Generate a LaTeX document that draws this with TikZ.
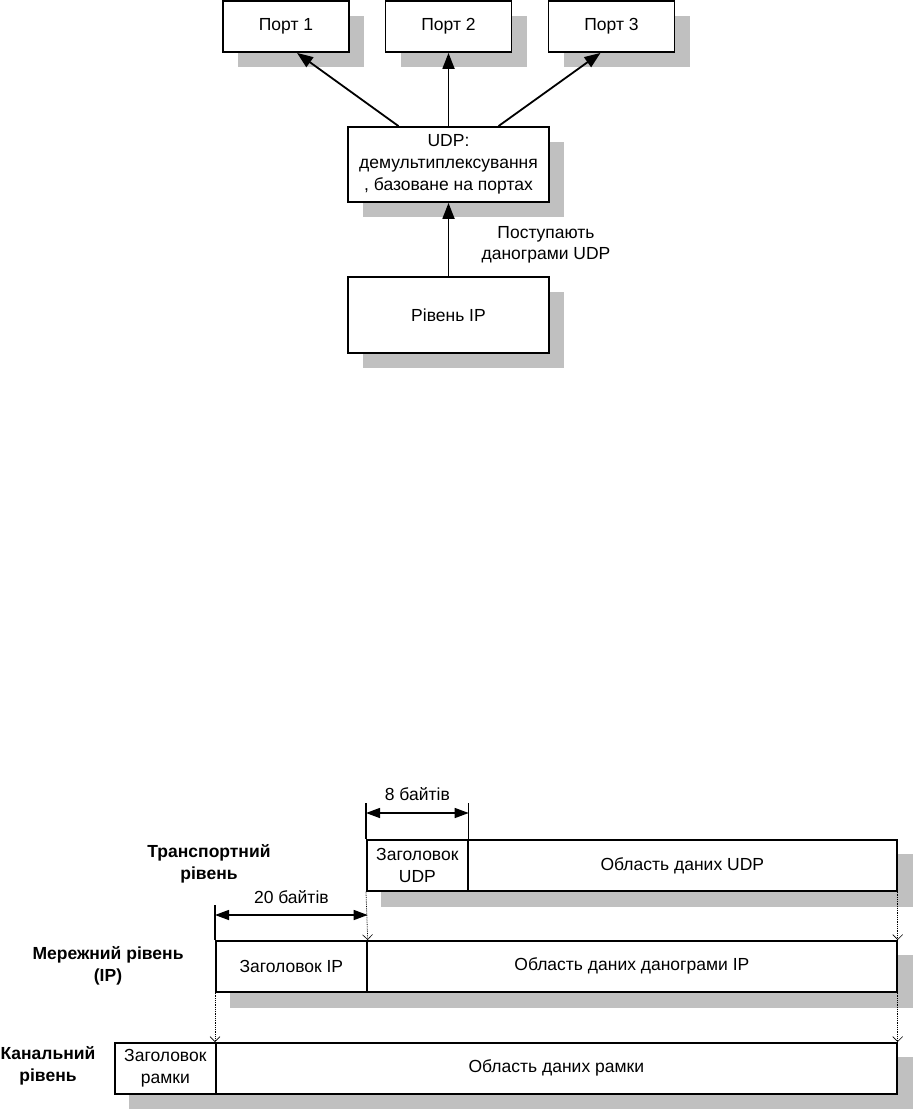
\documentclass[tikz,border=0pt]{standalone}
\usepackage{fontspec}
\setmainfont{Liberation Sans}
\usetikzlibrary{arrows.meta,shadows,calc,backgrounds}
\definecolor{shadowgray}{RGB}{192,192,192}
\begin{document}
\begin{tikzpicture}[x=1pt,y=-1pt,
  font=\fontsize{17.5}{21.5}\selectfont,
  box/.style={draw, line width=1.8pt, fill=white, align=center, inner sep=0pt,
    drop shadow={shadow xshift=15pt, shadow yshift=-15pt, fill=shadowgray, opacity=1}},
  cell/.style={draw, line width=1.7pt, fill=white, align=center, inner sep=0pt,
    anchor=north west, minimum height=51pt},
  arr/.style={line width=1.8pt, -{Triangle[length=16pt,width=12pt]}},
  dimarr/.style={line width=1.4pt, {Triangle[length=14pt,width=10pt]}-{Triangle[length=14pt,width=10pt]}},
  extline/.style={line width=1.1pt},
  dotarr/.style={line width=0.8pt, densely dotted, -{Straight Barb[length=5pt,width=10pt,line width=0.6pt]}},
  lvl/.style={font=\fontsize{17.5}{22}\selectfont\bfseries, align=center}]
\useasboundingbox (0,0) rectangle (913,1109);

% ---------- top diagram ----------
\node[box, minimum width=126pt, minimum height=51pt] (p1) at (286,26.5) {Порт 1};
\node[box, minimum width=126pt, minimum height=51pt] (p2) at (448.5,26.5) {Порт 2};
\node[box, minimum width=126pt, minimum height=51pt] (p3) at (611.5,26.5) {Порт 3};
\node[box, minimum width=201pt, minimum height=75pt, font=\fontsize{17.5}{22}\selectfont] (udp) at (448.5,164.5)
  {UDP:\\демультиплексування\\, базоване на портах};
\node[box, minimum width=201pt, minimum height=76pt] (ip) at (448.5,315) {Рівень IP};

\draw[arr] ($(udp.north)+(-50,0)$) -- ($(p1.south)+(11,0)$);
\draw[arr] (udp.north) -- (p2.south);
\draw[arr] ($(udp.north)+(50,0)$) -- ($(p3.south)+(-11,0)$);
\draw[arr] (ip.north) -- (udp.south);
\node[align=center] (lbl) at (546,245) {Поступають\\данограми UDP};

% ---------- bottom diagram ----------
\node[cell, minimum width=101pt] (udph) at (366,839) {Заголовок\\UDP};
\node[cell, minimum width=429pt] (udpd) at (467,839) {Область даних UDP};
\node[cell, minimum width=151pt] (iph) at (215,940) {Заголовок IP};
\node[cell, minimum width=530pt] (ipd) at (366,940) {Область даних данограми IP};
\node[cell, minimum width=101pt] (frh) at (114,1042) {Заголовок\\рамки};
\node[cell, minimum width=681pt] (frd) at (215,1042) {Область даних рамки};

\begin{pgfonlayer}{background}
  \fill[shadowgray] ($(udph.north west)+(15,15)$) rectangle ($(udpd.south east)+(15,15)$);
  \fill[shadowgray] ($(iph.north west)+(15,15)$) rectangle ($(ipd.south east)+(15,15)$);
  \fill[shadowgray] ($(frh.north west)+(15,15)$) rectangle ($(frd.south east)+(15,15)$);
\end{pgfonlayer}

% 8 bytes
\draw[extline] (udph.north west) -- ++(0,-36);
\draw[extline] (udph.north east) -- ++(0,-36);
\draw[dimarr] ($(udph.north west)+(0,-26)$) -- ($(udph.north east)+(0,-26)$);
\node (b8) at ($(udph.north)+(0,-45)$) {8 байтів};

% 20 bytes
\draw[extline] (iph.north west) -- ++(0,-35);
\draw[dimarr] ($(iph.north west)+(0,-25)$) -- ($(iph.north east)+(0,-25)$);
\node (b20) at ($(iph.north)+(0,-43)$) {20 байтів};

% dotted mapping arrows
\draw[dotarr] (udph.south west) -- (iph.north east);
\draw[dotarr] (udpd.south east) -- (ipd.north east);
\draw[dotarr] (iph.south west) -- (frd.north west);
\draw[dotarr] (ipd.south east) -- (frd.north east);

% level labels
\node[lvl] (ltr) at (209,864) {Транспортний\\рівень};
\node[lvl] (lnet) at (108,966) {Мережний рівень\\(IP)};
\node[lvl] (lch) at (48,1066) {Канальний\\рівень};
\end{tikzpicture}
\end{document}
